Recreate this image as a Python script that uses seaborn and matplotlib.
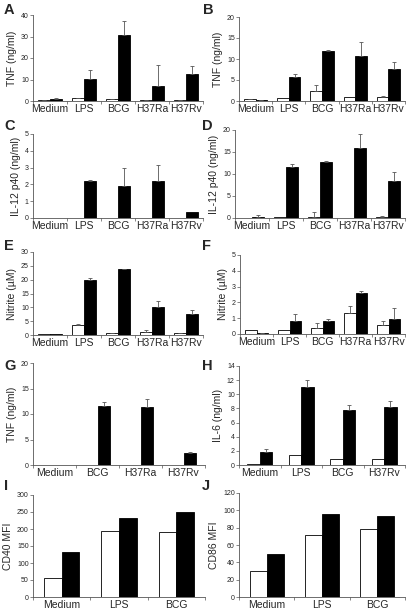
import numpy as np
import pandas as pd
import seaborn as sns
import matplotlib.pyplot as plt

sns.set_style("ticks")
plt.rcParams['font.family'] = ['Liberation Sans', 'DejaVu Sans']

W, H = 407, 613

# Categories
cats5 = ["Medium", "LPS", "BCG", "H37Ra", "H37Rv"]
cats_g = ["Medium", "BCG", "H37Ra", "H37Rv"]
cats_h = ["Medium", "LPS", "BCG", "H37Rv"]
cats3 = ["Medium", "LPS", "BCG"]

# Panel A - TNF (ng/ml)
a_white = [0.3, 1.3, 0.7, 0.3, 0.5]
a_white_err = [0.2, 0.3, 0.1, 0.2, 0.1]
a_black = [0.9, 10.3, 30.5, 7.0, 12.5]
a_black_err = [0.4, 4.0, 6.5, 9.7, 3.6]

# Panel B - TNF (ng/ml)
b_white = [0.4, 0.6, 2.5, 1.0, 1.0]
b_white_err = [0.1, 0.0, 1.2, 0.0, 0.1]
b_black = [0.2, 5.8, 12.0, 10.7, 7.6]
b_black_err = [0.1, 0.6, 0.2, 3.3, 1.8]

# Panel C - IL-12 p40 (ng/ml)
c_white = [0.01, 0.0, 0.02, 0.0, 0.02]
c_white_err = [0, 0, 0, 0, 0]
c_black = [0.02, 2.2, 1.9, 2.2, 0.35]
c_black_err = [0.0, 0.05, 1.1, 0.95, 0.0]

# Panel D - IL-12 p40 (ng/ml)
d_white = [0.1, 0.2, 0.3, 0.1, 0.3]
d_white_err = [0.0, 0.0, 1.1, 0.0, 0.1]
d_black = [0.3, 11.5, 12.8, 15.8, 8.5]
d_black_err = [0.3, 0.8, 0.1, 3.3, 2.0]

# Panel E - Nitrite (uM)
e_white = [0.3, 3.7, 0.8, 1.2, 0.8]
e_white_err = [0.0, 0.2, 0.1, 0.6, 0.1]
e_black = [0.3, 19.7, 23.9, 10.0, 7.7]
e_black_err = [0.0, 1.0, 0.1, 2.2, 1.2]

# Panel F - Nitrite (uM)
f_white = [0.25, 0.25, 0.35, 1.3, 0.6]
f_white_err = [0.0, 0.0, 0.35, 0.45, 0.25]
f_black = [0.05, 0.85, 0.85, 2.6, 0.95]
f_black_err = [0.02, 0.4, 0.1, 0.1, 0.7]

# Panel G - TNF (ng/ml)
g_white = [0, 0, 0, 0]
g_white_err = [0, 0, 0, 0]
g_black = [0, 11.5, 11.3, 2.3]
g_black_err = [0, 0.9, 1.7, 0.2]

# Panel H - IL-6 (ng/ml)
h_white = [0.2, 1.4, 0.8, 0.8]
h_white_err = [0, 0, 0, 0]
h_black = [1.9, 11.1, 7.8, 8.2]
h_black_err = [0.4, 0.9, 0.7, 0.8]

# Panel I - CD40 MFI
i_white = [57, 195, 190]
i_black = [132, 231, 250]

# Panel J - CD86 MFI
j_white = [30, 71, 79]
j_black = [50, 96, 93]


def add_ax(fig, left, right, top, bottom):
    return fig.add_axes([left / W, 1 - bottom / H, (right - left) / W, (bottom - top) / H])


def panel(ax, cats, white, black, ylabel, ymax, ystep, white_err=None, black_err=None, width=0.7):
    n = len(cats)
    df = pd.DataFrame({
        "stim": cats * 2,
        "value": list(white) + list(black),
        "cell": ["white"] * n + ["black"] * n,
    })
    sns.barplot(data=df, x="stim", y="value", hue="cell", order=cats,
                hue_order=["white", "black"], palette=["white", "black"],
                edgecolor="black", linewidth=0.6, width=width, errorbar=None,
                legend=False, ax=ax)
    errs = [white_err, black_err]
    for cont, err in zip(ax.containers, errs):
        if err is None:
            continue
        xs = np.array([p.get_x() + p.get_width() / 2 for p in cont.patches])
        hs = np.array([p.get_height() for p in cont.patches])
        err = np.array(err, dtype=float)
        m = err > 0
        if m.any():
            ax.errorbar(xs[m], hs[m], yerr=[np.zeros(m.sum()), err[m]], fmt="none",
                        ecolor="#555555", elinewidth=0.6, capsize=1.5, capthick=0.6)
    ax.set_xlim(-0.5, n - 0.5)
    ax.set_ylim(0, ymax)
    ax.set_yticks(np.arange(0, ymax + ystep / 2, ystep))
    ax.set_xticks(range(n))
    ax.set_xticklabels(cats)
    ax.set_xticks(np.arange(-0.5, n, 1.0), minor=True)
    ax.tick_params(axis="x", which="major", length=0, labelsize=7.5, pad=2)
    ax.tick_params(axis="x", which="minor", length=2.5, width=0.5, color="#555555")
    ax.tick_params(axis="y", length=2, width=0.5, labelsize=5, pad=1, color="#555555")
    ax.set_xlabel("")
    ax.set_ylabel(ylabel, fontsize=7.5, labelpad=3)
    sns.despine(ax=ax)
    for s in ["left", "bottom"]:
        ax.spines[s].set_linewidth(0.6)
        ax.spines[s].set_color("#555555")


fig = plt.figure(figsize=(W / 100, H / 100), dpi=100)

ax = add_ax(fig, 33, 203, 15, 101)
panel(ax, cats5, a_white, a_black, "TNF (ng/ml)", 40, 10, a_white_err, a_black_err)
ax = add_ax(fig, 239, 405, 17, 101)
panel(ax, cats5, b_white, b_black, "TNF (ng/ml)", 20, 5, b_white_err, b_black_err)
ax = add_ax(fig, 33, 203, 134, 218)
panel(ax, cats5, c_white, c_black, "IL-12 p40 (ng/ml)", 5, 1, c_white_err, c_black_err)
ax = add_ax(fig, 235, 405, 130, 218)
panel(ax, cats5, d_white, d_black, "IL-12 p40 (ng/ml)", 20, 5, d_white_err, d_black_err)
ax = add_ax(fig, 33, 203, 252, 335)
panel(ax, cats5, e_white, e_black, "Nitrite (\u00b5M)", 30, 5, e_white_err, e_black_err)
ax = add_ax(fig, 240, 405, 255, 334)
panel(ax, cats5, f_white, f_black, "Nitrite (\u00b5M)", 5, 1, f_white_err, f_black_err)
ax = add_ax(fig, 33, 205, 363, 465)
panel(ax, cats_g, g_white, g_black, "TNF (ng/ml)", 20, 5, g_white_err, g_black_err, width=0.6)
ax = add_ax(fig, 239, 405, 366, 465)
panel(ax, cats_h, h_white, h_black, "IL-6 (ng/ml)", 14, 2, h_white_err, h_black_err, width=0.6)
ax = add_ax(fig, 33, 205, 495, 597)
panel(ax, cats3, i_white, i_black, "CD40 MFI", 300, 50, width=0.62)
ax = add_ax(fig, 239, 405, 493, 597)
panel(ax, cats3, j_white, j_black, "CD86 MFI", 120, 20, width=0.62)

letters = [("A", 4, 3), ("B", 203, 3), ("C", 4, 119), ("D", 202, 119),
           ("E", 4, 239), ("F", 202, 239), ("G", 4, 359), ("H", 202, 359),
           ("I", 4, 479), ("J", 202, 479)]
for t, x, y in letters:
    fig.text(x / W, 1 - y / H, t, fontsize=10.5, fontweight="heavy", va="top", ha="left")

fig.savefig("out.png", dpi=100)
